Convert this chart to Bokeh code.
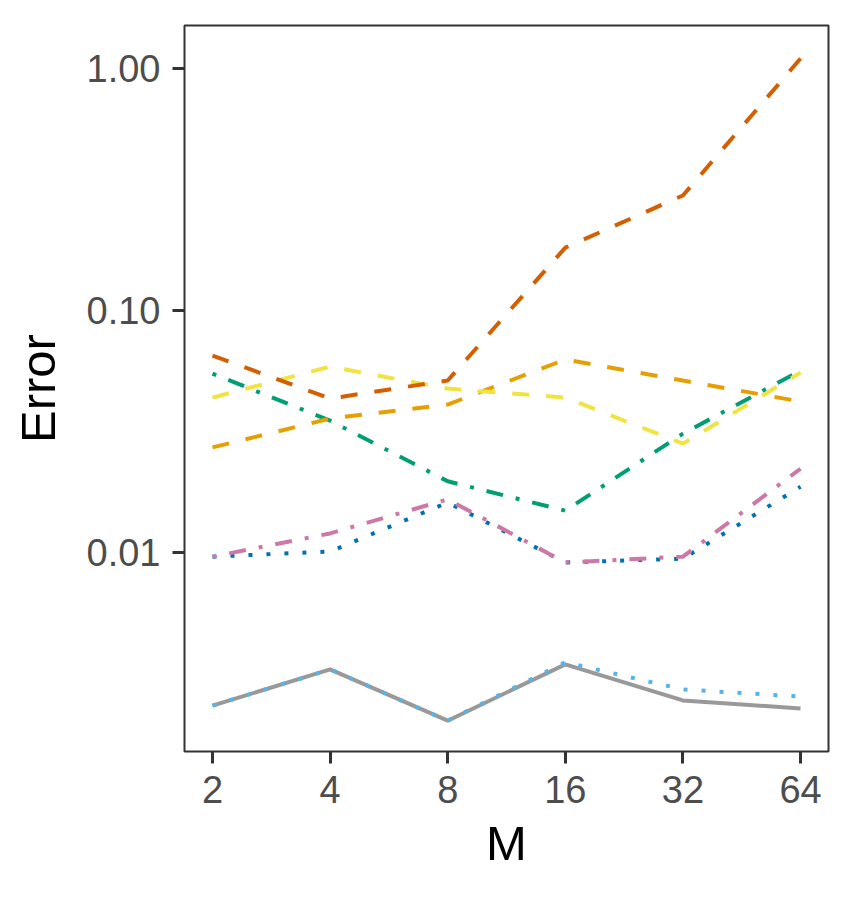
from bokeh.plotting import figure
from bokeh.models import FixedTicker, Range1d
from bokeh.embed import file_html
from bokeh.resources import INLINE

M = [2, 4, 8, 16, 32, 64]

err_vermilion = [0.0652, 0.0433, 0.0514, 0.182, 0.299, 1.10]
err_yellow = [0.0437, 0.0587, 0.0476, 0.0437, 0.0282, 0.0554]
err_orange = [0.0272, 0.0358, 0.0409, 0.0628, 0.0514, 0.0421]
err_green = [0.0549, 0.0351, 0.0197, 0.0149, 0.0310, 0.0565]
err_pink = [0.00962, 0.0120, 0.0166, 0.0091, 0.00962, 0.0222]
err_blue = [0.00962, 0.0101, 0.0161, 0.0091, 0.00944, 0.0187]
err_grey = [0.00233, 0.00329, 0.00202, 0.00345, 0.00245, 0.00227]
err_sky = [0.00233, 0.00329, 0.00202, 0.00352, 0.00272, 0.00254]

y_ticks = [0.01, 0.1, 1.0]
y_tick_labels = ["0.01", "0.10", "1.00"]
x_tick_labels = ["2", "4", "8", "16", "32", "64"]

FONT = "Liberation Sans"

p = figure(
    frame_width=644, frame_height=726,
    x_axis_type="log", y_axis_type="log",
    x_range=Range1d(2 ** 0.762, 2 ** 6.238),
    y_range=Range1d(10 ** -2.822, 10 ** 0.178),
    output_backend="svg", toolbar_location=None,
    min_border_left=184, min_border_top=25, min_border_right=10, min_border_bottom=128,
    background_fill_color="white", border_fill_color="white",
)

dash = "17 17"
dotdash = "4 13 17 13"
dotted = "4 14"
lw = 4

series = [
    (err_grey, "#999999", "solid"),
    (err_sky, "#56B4E9", dotted),
    (err_blue, "#0072B2", dotted),
    (err_pink, "#CC79A7", dotdash),
    (err_green, "#009E73", dotdash),
    (err_orange, "#E69F00", dash),
    (err_yellow, "#F0E442", dash),
    (err_vermilion, "#D55E00", dash),
]
for ys, col, ld in series:
    p.line(M, ys, line_color=col, line_width=lw, line_dash=ld)

p.xgrid.grid_line_color = None
p.ygrid.grid_line_color = None
p.outline_line_color = "#333333"
p.outline_line_width = 2
p.outline_line_alpha = 1.0

p.xaxis.ticker = FixedTicker(ticks=M, minor_ticks=[])
p.xaxis.major_label_overrides = {m: l for m, l in zip(M, x_tick_labels)}
p.yaxis.ticker = FixedTicker(ticks=y_ticks, minor_ticks=[])
p.yaxis.major_label_overrides = {t: l for t, l in zip(y_ticks, y_tick_labels)}

for ax in (p.xaxis[0], p.yaxis[0]):
    ax.axis_line_color = None
    ax.major_tick_line_color = "#333333"
    ax.major_tick_line_width = 3
    ax.major_tick_out = 12
    ax.major_tick_in = 0
    ax.minor_tick_line_color = None
    ax.major_label_text_font = FONT
    ax.major_label_text_font_size = "38px"
    ax.major_label_text_color = "#4D4D4D"
    ax.axis_label_text_font = FONT
    ax.axis_label_text_font_size = "49px"
    ax.axis_label_text_font_style = "normal"
    ax.axis_label_text_color = "black"

p.xaxis.axis_label = "M"
p.yaxis.axis_label = "Error"
p.xaxis.major_label_standoff = 12
p.yaxis.major_label_standoff = 12
p.xaxis.axis_label_standoff = 10
p.yaxis.axis_label_standoff = 19

open("out.html", "w").write(file_html(p, INLINE))
